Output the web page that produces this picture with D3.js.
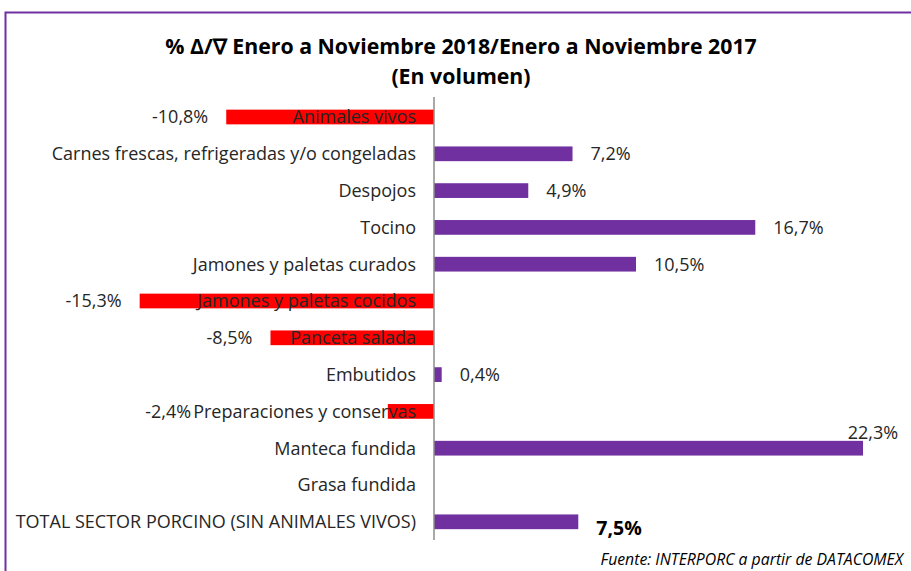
<!DOCTYPE html>
<html>
<head>
<meta charset="utf-8">
<script src="https://cdn.jsdelivr.net/npm/d3@7"></script>
<style>
  body { margin: 0; background: #fff; }
  svg text { font-family: "Open Sans", "Noto Sans", sans-serif; fill: #262626; }
</style>
</head>
<body>
<div id="chart"></div>
<script>
// categories, top to bottom
var categories = [
  "Animales vivos",
  "Carnes frescas, refrigeradas y/o congeladas",
  "Despojos",
  "Tocino",
  "Jamones y paletas curados",
  "Jamones y paletas cocidos",
  "Panceta salada",
  "Embutidos",
  "Preparaciones y conservas",
  "Manteca fundida",
  "Grasa fundida",
  "TOTAL SECTOR PORCINO (SIN ANIMALES VIVOS)"
];

// % variation in volume (null = no data)
var values = [-10.8, 7.2, 4.9, 16.7, 10.5, -15.3, -8.5, 0.4, -2.4, 22.3, null, 7.5];

var titleLines = [
  "% \u0394/\u2207 Enero a Noviembre 2018/Enero a Noviembre 2017",
  "(En volumen)"
];
var source = "Fuente: INTERPORC  a partir de DATACOMEX";

var W = 911, H = 571;
var POS = "#7030A0", NEG = "#FF0000";

var svg = d3.select("#chart").append("svg")
    .attr("width", W).attr("height", H);

// frame
svg.append("rect")
    .attr("x", 5.5).attr("y", 12.5)
    .attr("width", 2000).attr("height", 2000)
    .attr("fill", "none")
    .attr("stroke", POS)
    .attr("stroke-width", 2);

// title
svg.selectAll(".title")
    .data(titleLines)
    .enter().append("text")
    .attr("class", "title")
    .attr("x", 461)
    .attr("y", function(d, i){ return 54 + i * 30; })
    .attr("text-anchor", "middle")
    .style("font-size", "21.3px")
    .style("font-weight", "bold")
    .style("fill", "#000")
    .text(function(d){ return d; });

var x = d3.scaleLinear()
    .domain([0, 22.3])
    .range([434, 863]);

var y = d3.scaleBand()
    .domain(categories)
    .range([98.6, 540.2])
    .paddingInner(0.6)
    .paddingOuter(0.3);

var rows = categories.map(function(c, i){
    return { cat: c, v: values[i] };
});

// bars
svg.append("g").selectAll("rect")
    .data(rows.filter(function(d){ return d.v !== null; }))
    .enter().append("rect")
    .attr("x", function(d){ return x(Math.min(0, d.v)); })
    .attr("y", function(d){ return y(d.cat); })
    .attr("width", function(d){ return Math.abs(x(d.v) - x(0)); })
    .attr("height", y.bandwidth())
    .attr("fill", function(d){ return d.v < 0 ? NEG : POS; });

// zero axis
svg.append("line")
    .attr("x1", x(0)).attr("x2", x(0))
    .attr("y1", 97).attr("y2", 540)
    .attr("stroke", "#8c8c8c")
    .attr("stroke-width", 1.5);

// category labels
var catLabels = svg.append("g").selectAll("text")
    .data(rows)
    .enter().append("text")
    .attr("x", x(0) - 18)
    .attr("y", function(d){ return y(d.cat) + y.bandwidth() / 2; })
    .attr("dy", "0.36em")
    .attr("text-anchor", "end")
    .style("font-size", "18px")
    .text(function(d){ return d.cat; });

// left edge of each category label, to keep value labels clear of it
var catLeft = {};
catLabels.each(function(d){ catLeft[d.cat] = this.getBBox().x; });

// value labels
var fmt = function(v){ return v.toFixed(1).replace(".", ",") + "%"; };
var last = categories.length - 1;
var vmax = d3.max(values);

svg.append("g").selectAll("text")
    .data(rows.filter(function(d){ return d.v !== null; }))
    .enter().append("text")
    .attr("x", function(d){
        if (d.v === vmax) return x(d.v) + 10;
        if (d.v < 0) return Math.min(x(d.v) - 18, catLeft[d.cat] - 2);
        return x(d.v) + 18;
    })
    .attr("y", function(d){
        var cy = y(d.cat) + y.bandwidth() / 2;
        if (d.v === vmax) return cy - 16;
        if (d.cat === categories[last]) return cy + 6;
        return cy;
    })
    .attr("dy", "0.36em")
    .attr("text-anchor", function(d){
        if (d.v === vmax) return "middle";
        return d.v < 0 ? "end" : "start";
    })
    .style("font-size", function(d){ return d.cat === categories[last] ? "19.5px" : "18px"; })
    .style("font-weight", function(d){ return d.cat === categories[last] ? "bold" : "normal"; })
    .style("fill", function(d){ return d.cat === categories[last] ? "#000" : "#262626"; })
    .text(function(d){ return fmt(d.v); });

// source
svg.append("text")
    .attr("x", 903)
    .attr("y", 565)
    .attr("text-anchor", "end")
    .style("font-size", "15.8px")
    .style("font-style", "italic")
    .style("fill", "#000")
    .text(source);
</script>
</body>
</html>
